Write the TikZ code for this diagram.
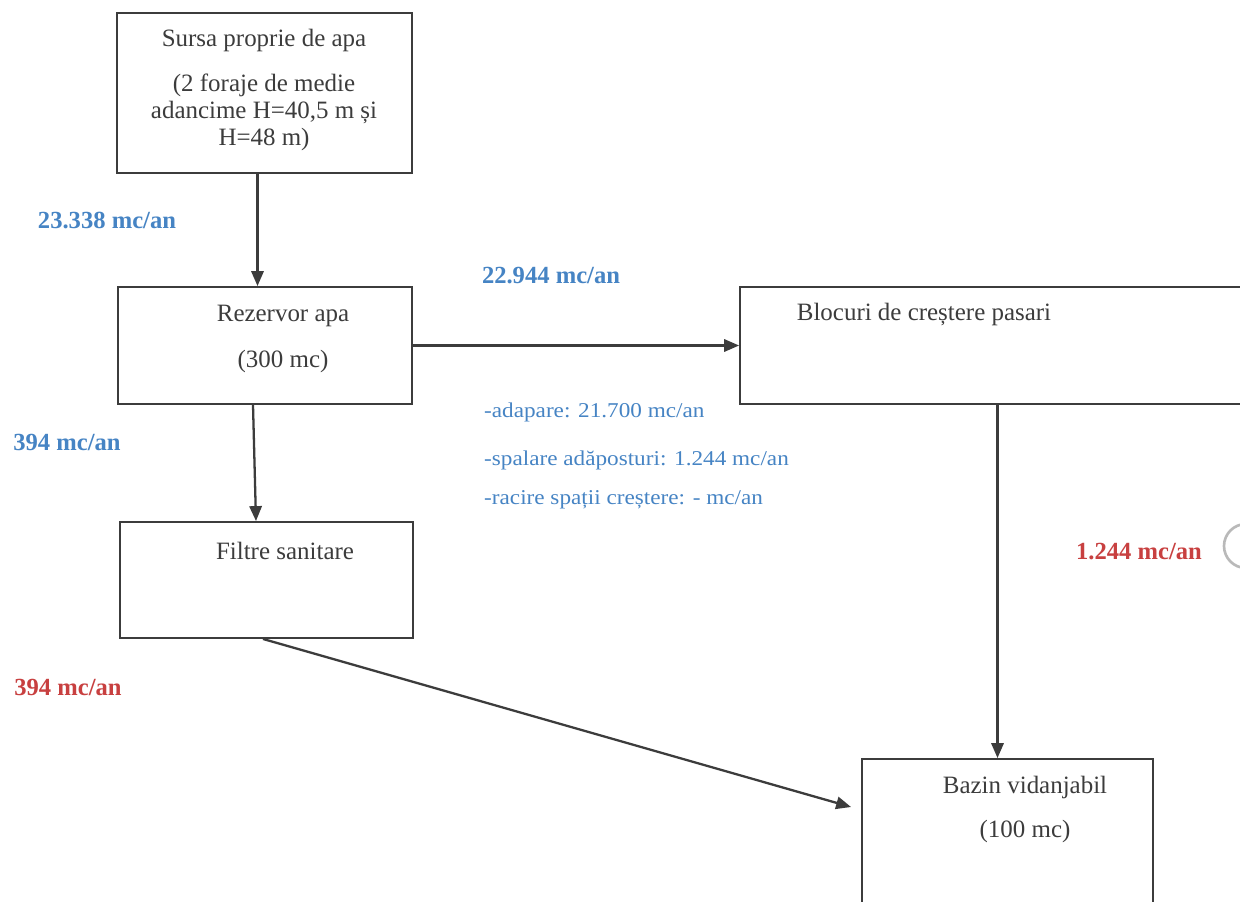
\documentclass[tikz,border=0pt]{standalone}
\usepackage{fontspec}
\setmainfont{Liberation Serif}
\newfontfamily\latfont[FakeStretch=1.1]{Liberation Serif}
\usetikzlibrary{arrows.meta}
\definecolor{debit}{RGB}{70,132,196}
\definecolor{evac}{RGB}{200,64,64}
\definecolor{contur}{RGB}{60,60,60}
\tikzset{
  bloc/.style={draw=contur, line width=1.1pt},
  scris/.style={text=contur, align=center},
  eticheta/.style={font=\fontsize{14}{16}\selectfont\bfseries},
  flux/.style={->, draw=contur, line width=1.3pt},
}
\begin{document}
\begin{tikzpicture}[x=0.02cm, y=-0.02cm, >={Triangle[length=8.5pt,width=7pt]},
    font=\fontsize{14.2}{15.3}\selectfont]
  \clip (0,0) rectangle (1240,902);
  \fill[white] (0,0) rectangle (1240,902);
  % Casete
  \node[bloc, minimum width=5.9cm, minimum height=3.2cm] (sursa) at (264.5,93) {};
  \node[bloc, minimum width=5.88cm, minimum height=2.34cm] (rezervor) at (265,345.5) {};
  \node[bloc, minimum width=10.8cm, minimum height=2.34cm] (blocuri) at (1010,345.5) {};
  \node[bloc, minimum width=5.86cm, minimum height=2.32cm] (filtre) at (266.5,580) {};
  \node[bloc, minimum width=5.82cm, minimum height=3.82cm] (bazin) at (1007.5,854.5) {};
  % Texte in casete
  \node[scris] (tsursa) at (264,90) {Sursa proprie de apa\\[10pt](2 foraje de medie\\adancime H=40,5 m și\\H=48 m)};
  \node[scris] (trezervor) at (283,339) {Rezervor apa\\[10.5pt](300 mc)};
  \node[scris] (tblocuri) at (924,314) {Blocuri de creștere pasari};
  \node[scris] (tfiltre) at (285,551) {Filtre sanitare};
  \node[scris] (tbazin) at (1025,809.5) {Bazin vidanjabil\\[10pt](100 mc)};
  % Sageti
  \draw[flux] ([xshift=-0.14cm]sursa.south) -- ([xshift=-0.14cm]sursa.south |- rezervor.north);
  \draw[flux] (rezervor.east) -- (blocuri.west);
  \draw[flux] ([xshift=-0.24cm]rezervor.south) -- ([xshift=-0.21cm]filtre.north);
  \draw[flux] ([xshift=-0.07cm]filtre.south) -- ([xshift=-0.2cm, yshift=0.95cm]bazin.west);
  \draw[flux] ([xshift=-0.2cm]bazin.north |- blocuri.south) -- ([xshift=-0.2cm]bazin.north);
  % Debite
  \node[eticheta, text=debit] (q1) at (107,220) {23.338 mc/an};
  \node[eticheta, text=debit] (q2) at (551,276) {22.944 mc/an};
  \node[eticheta, text=debit] (q3) at (67,442) {394 mc/an};
  \node[eticheta, text=evac] (q4) at (68,687) {394 mc/an};
  \node[eticheta, text=evac] (q5) at (1139,552) {1.244 mc/an};
  \begin{scope}[font=\latfont\fontsize{12}{14}\selectfont, text=debit]
    \node[anchor=west] (c1) at (478,412) {-adapare: 21.700 mc/an};
    \node[anchor=west] (c2) at (478,460) {-spalare adăposturi: 1.244 mc/an};
    \node[anchor=west] (c3) at (478,500) {-racire spații creștere: - mc/an};
  \end{scope}
  % urma de perforator
  \draw[gray!55, line width=1.5pt] (1246,546) circle (22);
\end{tikzpicture}
\end{document}
